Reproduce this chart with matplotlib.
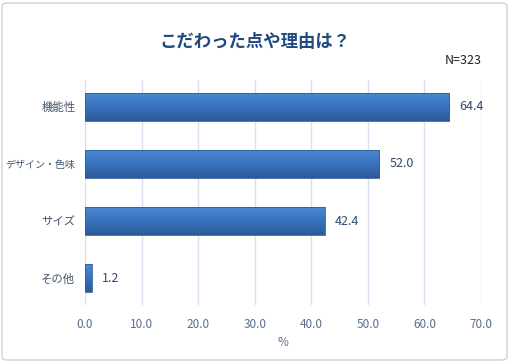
import matplotlib
matplotlib.use("Agg")
import matplotlib.pyplot as plt
import numpy as np
from matplotlib.patches import FancyBboxPatch
from matplotlib.colors import LinearSegmentedColormap

plt.rcParams['font.family'] = ['Noto Sans CJK JP', 'DejaVu Sans']

categories = ["機能性", "デザイン・色味", "サイズ", "その他"]
values = [64.4, 52.0, 42.4, 1.2]
xticks = [0, 10, 20, 30, 40, 50, 60, 70]
title = "こだわった点や理由は？"
note = "N=323"
xlabel = "%"

fig = plt.figure(figsize=(5.1, 3.62), dpi=100)
W, H = 510, 362
ax = fig.add_axes([85 / W, 1 - 305 / H, (481 - 85) / W, (305 - 80) / H])

ypos = list(range(len(categories)))
bh = 0.49
bars = ax.barh(ypos, values, height=bh, color="none", edgecolor="#2F5E9E", linewidth=0.6, zorder=4)
cmap = LinearSegmentedColormap.from_list("g", ["#4A88D2", "#3A72BC", "#2C5A98"])
grad = np.linspace(0, 1, 64).reshape(-1, 1)
for b in bars:
    x0, y0 = b.get_x(), b.get_y()
    w, h = b.get_width(), b.get_height()
    im = ax.imshow(grad, cmap=cmap, aspect="auto", extent=(x0, x0 + w, y0 + h, y0),
                   origin="upper", zorder=3)
    im.set_clip_path(b)
for y, v in zip(ypos, values):
    ax.text(v + 1.8, y, f"{v:.1f}", va="center", ha="left", fontsize=9, color="#2E4A73")

ax.set_xlim(0, 70)
ax.set_ylim(3.47, -0.47)
ax.set_xticks(xticks)
ax.set_xticklabels([f"{t:.1f}" for t in xticks], fontsize=8.5, color="#5A6F90")
ax.set_yticks(ypos)
ax.set_yticklabels(categories, fontsize=8.2, color="#44546A")
for lbl in ax.get_yticklabels():
    if len(lbl.get_text()) > 5:
        lbl.set_fontsize(7.2)
ax.tick_params(axis='y', length=0, pad=7)
ax.tick_params(axis='x', length=0, pad=9)
ax.grid(axis='x', color="#D6E2F1", linewidth=1.0, zorder=0)
for s in ax.spines.values():
    s.set_visible(False)
ax.set_xlabel(xlabel, fontsize=8.5, color="#5A6F90", labelpad=4)

fig.text(0.5, 1 - 42 / H, title, ha="center", va="center", fontsize=12.5, fontweight="bold", color="#1F4A80")
fig.text(482 / W, 1 - 61 / H, note, ha="right", va="center", fontsize=9, color="#222222")

border = FancyBboxPatch((2 / W, 2 / H), 1 - 5 / W, 1 - 5 / H, boxstyle="round,pad=0,rounding_size=0.01",
                        transform=fig.transFigure, fill=False, edgecolor="#C8D2DE", linewidth=1.0)
fig.patches.append(border)

fig.savefig("out.png", dpi=100)
